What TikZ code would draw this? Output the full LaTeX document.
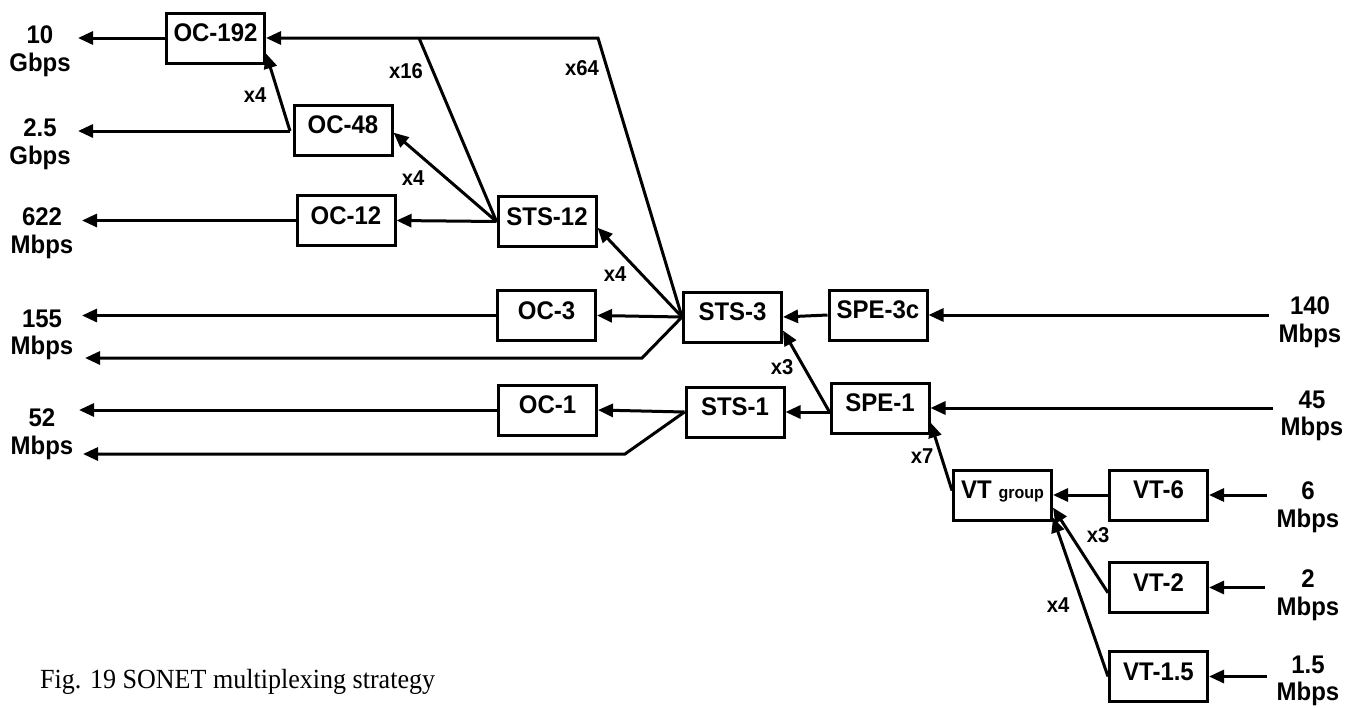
\documentclass[tikz,border=0pt]{standalone}
\usepackage{fontspec}
\setmainfont{Liberation Sans}
\newfontfamily\tallsans{Liberation Sans}[FakeStretch=0.94]
\newfontfamily\capfont{Liberation Serif}[FakeStretch=0.94]
\usetikzlibrary{arrows.meta}
\begin{document}
\begin{tikzpicture}[x=1pt,y=-1pt,
  box/.style={draw, line width=3pt, minimum width=98pt, minimum height=50pt, inner sep=0pt,
    font=\tallsans\bfseries\fontsize{25.5}{25.5}\selectfont, text height=12.7pt, text depth=5.5pt},
  rate/.style={font=\tallsans\bfseries\fontsize{25.5}{27.5}\selectfont, align=center, inner sep=0pt},
  mul/.style={font=\tallsans\bfseries\fontsize{21.5}{21.5}\selectfont, inner sep=0pt},
  conn/.style={line width=3pt},
  arr/.style={conn, -{Triangle[length=15pt,width=13pt]}}]
\useasboundingbox (0,0) rectangle (1357,707);
\fill[white] (0,0) rectangle (1357,707);

% boxes
\node[box] (oc192) at (215.5,38) {OC-192};
\node[box] (oc48) at (343,130) {OC-48};
\node[box] (oc12) at (346,220.5) {OC-12};
\node[box] (sts12) at (547,221.5) {STS-12};
\node[box] (oc3) at (546.5,315.5) {OC-3};
\node[box] (sts3) at (732.5,317) {STS-3};
\node[box] (spe3c) at (878,315) {SPE-3c};
\node[box] (oc1) at (547.5,410) {OC-1};
\node[box] (sts1) at (735,412) {STS-1};
\node[box] (spe1) at (880,408) {SPE-1};
\node[box] (vtg) at (1002.5,495) {VT {\fontsize{17}{17}\selectfont group}};
\node[box] (vt6) at (1158.5,495) {VT-6};
\node[box] (vt2) at (1158.5,587.5) {VT-2};
\node[box] (vt15) at (1158.5,676.5) {VT-1.5};

% rate labels
\node[rate] (r10) at (40,51) {10\\Gbps};
\node[rate] (r25) at (40,144) {2.5\\Gbps};
\node[rate] (r622) at (42,233) {622\\Mbps};
\node[rate] (r155) at (42,335) {155\\Mbps};
\node[rate] (r52) at (42,434) {52\\Mbps};
\node[rate] (r140) at (1310,322) {140\\Mbps};
\node[rate] (r45) at (1312,416) {45\\Mbps};
\node[rate] (r6) at (1308,507) {6\\Mbps};
\node[rate] (r2) at (1308,595) {2\\Mbps};
\node[rate] (r15) at (1308,681) {1.5\\Mbps};

% connector end points
\coordinate (t10) at (78,38);
\coordinate (t25) at (78,131);
\coordinate (t622) at (82,220.5);
\coordinate (t155a) at (82,315.5);
\coordinate (t155b) at (85,358);
\coordinate (t52a) at (79,410);
\coordinate (t52b) at (83,454);
\coordinate (j48) at (290,131);
\coordinate (j16) at (419,38);
\coordinate (c64) at (598,38);
\coordinate (c155) at (642,358);
\coordinate (c52) at (625,454);
\coordinate (s140) at (1269,315);
\coordinate (s45) at (1273,408);
\coordinate (s6) at (1267,495);
\coordinate (s2) at (1265,587.5);
\coordinate (s15) at (1267,676.5);

% connectors
\draw[arr] (oc192.west) -- (t10);
\draw[arr] (j48) -- (t25);
\draw[arr] (j48) -- (oc192.-17);
\draw[arr] (oc12.west) -- (t622);
\draw[arr] (sts12.west) -- (oc12.east);
\draw[arr] (sts12.west) -- (oc48.-3);
\draw[conn] (sts12.west) -- (j16);
\draw[arr] (sts3.west) -- (oc3.east);
\draw[arr] (sts3.west) -- (sts12.-7);
\draw[arr] (sts3.west) -- (c64) -- (oc192.east);
\draw[arr] (sts3.west) -- (c155) -- (t155b);
\draw[arr] (oc3.west) -- (t155a);
\draw[arr] (spe3c.west) -- (sts3.east);
\draw[arr] (s140) -- (spe3c.east);
\draw[arr] (s45) -- (spe1.east);
\draw[arr] (spe1.west |- sts1.east) -- (sts1.east);
\draw[arr] (spe1.west |- sts1.east) -- (sts3.-15);
\draw[arr] (sts1.west) -- (oc1.east);
\draw[arr] (sts1.west) -- (c52) -- (t52b);
\draw[arr] (oc1.west) -- (t52a);
\draw[arr] (vtg.175) -- (spe1.-16);
\draw[arr] (vt6.west) -- (vtg.east);
\draw[arr] (vt2.186) -- (vtg.-14);
\draw[arr] (vt15.west) -- (vtg.-24);
\draw[arr] (s6) -- (vt6.east);
\draw[arr] (s2) -- (vt2.east);
\draw[arr] (s15) -- (vt15.east);

% multiplicity labels
\node[mul] (m4a) at (255,95) {x4};
\node[mul] (m16) at (406,71) {x16};
\node[mul] (m4b) at (413,178) {x4};
\node[mul] (m64) at (582,68) {x64};
\node[mul] (m4c) at (615,274) {x4};
\node[mul] (m3a) at (782,367) {x3};
\node[mul] (m7) at (922,456) {x7};
\node[mul] (m3b) at (1098,535) {x3};
\node[mul] (m4d) at (1058,605) {x4};

% caption
\node[anchor=base west, font=\capfont\fontsize{27.7}{27.7}\selectfont, inner sep=0pt] (cap) at (40,688) {Fig. 19 SONET multiplexing strategy};
\end{tikzpicture}
\end{document}
